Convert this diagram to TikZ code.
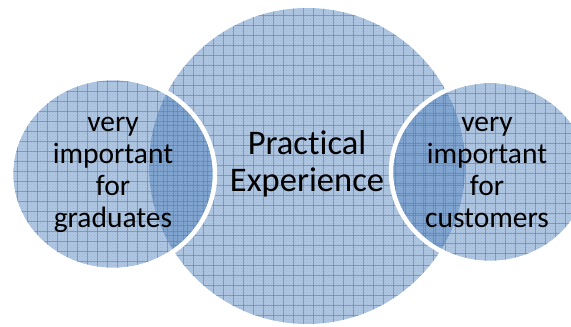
\documentclass[tikz,border=0pt]{standalone}
\usepackage{fontspec}
\setmainfont{Carlito}[Ligatures=NoCommon]
\usetikzlibrary{patterns}
\definecolor{accent}{HTML}{4F81BD}
\tikzset{
  bubble/.style={fill=accent, fill opacity=0.45},
  finetex/.style={pattern=crosshatch dots, pattern color=accent, fill opacity=0.25},
  majorline/.style={draw=accent, draw opacity=0.6, line width=0.7pt},
  whitering/.style={draw=white, line width=4.5pt},
  sidetext/.style={align=center, font=\fontsize{29.5}{32}\selectfont, text=black, inner sep=0pt},
  maintext/.style={align=center, font=\fontsize{34.5}{36.5}\selectfont, text=black, inner sep=0pt}
}
\newcommand{\gridlines}[2]{%
  \foreach \gi in {0,...,58} {\draw[majorline] ({\gi*10+#1},0) -- ({\gi*10+#1},327);}
  \foreach \gj in {0,...,33} {\draw[majorline] (0,{\gj*10+#2}) -- (571,{\gj*10+#2});}
}
\begin{document}
\begin{tikzpicture}[x=1pt,y=1pt]
\useasboundingbox (0,0) rectangle (571,327);
% central bubble
\begin{scope}
  \clip (307,161) circle (158);
  \fill[bubble] (0,0) rectangle (571,327);
  \fill[finetex] (0,0) rectangle (571,327);
  \gridlines{3}{2}
\end{scope}
% left bubble
\begin{scope}
  \clip (113,153) ellipse [x radius=100, y radius=94];
  \fill[bubble] (0,0) rectangle (571,327);
  \fill[finetex] (0,0) rectangle (571,327);
  \gridlines{7}{6}
\end{scope}
\draw[whitering] (113,153) ellipse [x radius=102, y radius=96];
% right bubble
\begin{scope}
  \clip (490,155) ellipse [x radius=97, y radius=89];
  \fill[bubble] (0,0) rectangle (571,327);
  \fill[finetex] (0,0) rectangle (571,327);
  \gridlines{5}{4}
\end{scope}
\draw[whitering] (490,155) ellipse [x radius=99, y radius=91];
% texts
\node[sidetext] (lefttext) at (113,152) {very\\important\\for\\graduates};
\node[maintext] (maintext) at (307,163) {Practical\\Experience};
\node[sidetext] (righttext) at (487,155) {very\\important\\for\\customers};
\end{tikzpicture}
\end{document}
